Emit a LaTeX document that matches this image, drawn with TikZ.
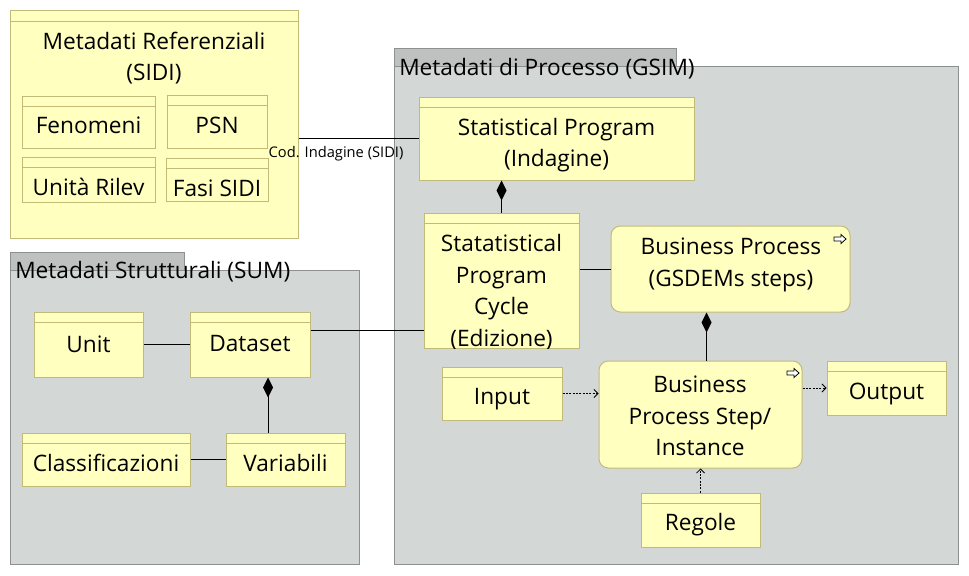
\documentclass[tikz,border=0pt]{standalone}
\usepackage{fontspec}
\setmainfont{Open Sans}
\usetikzlibrary{arrows.meta,fit,calc}
\definecolor{ylw}{HTML}{FFFFC0}
\definecolor{ylwb}{HTML}{C2BB78}
\definecolor{pkg}{HTML}{D3D7D6}
\definecolor{pkgtab}{HTML}{BFC1C1}
\definecolor{pkgb}{HTML}{8C908F}
\newcommand\klass[7]{%
  \node[classbox, fit={(#2,#3) (#4,#5)}] (#1) {};
  \draw[hdr] ($(#1.north west)+(0,11)$) -- ($(#1.north east)+(0,11)$);
  \node[txt] (#1-t) at ({(#2+#4)/2},#6) {#7};
}
\newcommand\bpicon[2]{%
  \draw[line width=0.6pt, fill=white] (#1,#2) ++(-6,-2) -- ++(7,0) -- ++(0,-2.5) -- ++(5,4.5) -- ++(-5,4.5) -- ++(0,-2.5) -- ++(-7,0) -- cycle;
}
\begin{document}
\begin{tikzpicture}[x=0.75pt,y=-0.75pt,
  classbox/.style={draw=ylwb, fill=ylw, line width=0.75pt, inner sep=0pt},
  hdr/.style={draw=ylwb, line width=0.75pt},
  pkgbody/.style={draw=pkgb, fill=pkg, line width=0.75pt, inner sep=0pt},
  pkgtabs/.style={draw=pkgb, fill=pkgtab, line width=0.75pt, inner sep=0pt},
  txt/.style={font=\fontsize{17}{23.6}\selectfont, align=center, inner sep=0pt, text=black},
  lbl/.style={font=\fontsize{11}{13}\selectfont, inner sep=0pt, text=black},
  conn/.style={draw=black, line width=0.75pt},
  comp/.style={conn, -{Diamond[length=15pt,width=7.5pt]}},
  dep/.style={draw=black, line width=0.6pt, dash pattern=on 1.5pt off 1pt, -{Straight Barb[length=3pt,width=6pt]}}
]
\fill[white] (0,0) rectangle (969,575);
\useasboundingbox (0,0) rectangle (969,575);

% packages
\node[pkgtabs, fit={(394,48) (676,66)}] (gsimtab) {};
\node[pkgbody, fit={(394,66) (958,564)}] (gsim) {};
\node[txt, anchor=west] (gsimt) at (399,69) {Metadati di Processo (GSIM)};

\node[pkgtabs, fit={(10,252) (184,270)}] (sumtab) {};
\node[pkgbody, fit={(10,270) (359,564)}] (sum) {};
\node[txt, anchor=west] (sumt) at (15,272) {Metadati Strutturali (SUM)};

\node[classbox, fit={(10,10) (298,238)}] (ref) {};
\draw[hdr] ($(ref.north west)+(0,12)$) -- ($(ref.north east)+(0,12)$);
\node[txt] (reft) at (154,58) {Metadati Referenziali\\(SIDI)};

% Referenziali contents
\klass{fen}{22}{96}{155}{148}{125}{Fenomeni}
\klass{psn}{167}{95}{267}{148}{125}{PSN}
\klass{unr}{22}{157}{155}{202}{187}{Unità Rilev}
\klass{fasi}{166}{158}{268}{201}{188}{Fasi SIDI}

% SUM contents
\klass{unit}{34}{312}{143}{377}{344}{Unit}
\klass{ds}{190}{312}{310}{377}{344}{Dataset}
\klass{cls}{22}{433}{190}{486}{463}{Classificazioni}
\klass{var}{226}{433}{345}{486}{463}{Variabili}

% GSIM contents
\klass{sp}{419}{97}{694}{180}{145}{Statistical Program\\(Indagine)}
\node[classbox, fit={(424,213) (579,348)}] (spc) {};
\draw[hdr] ($(spc.north west)+(0,11)$) -- ($(spc.north east)+(0,11)$);
\begin{scope}
  \clip (spc.south west) rectangle (spc.north east);
  \node[txt] (spct) at (501.5,292) {Statatistical\\Program\\Cycle\\(Edizione)};
\end{scope}
\node[classbox, rounded corners=7pt, fit={(611,226) (850,312)}] (bp) {};
\node[txt] (bpt) at (731,265) {Business Process\\(GSDEMs steps)};
\bpicon{840}{239}
\klass{inp}{442}{367}{562}{420}{399}{Input}
\node[classbox, rounded corners=7pt, fit={(599,361) (802,468)}] (bps) {};
\node[txt] (bpst) at (700,416) {Business\\Process Step/\\Instance};
\bpicon{793}{373}
\klass{out}{827}{361}{946}{415}{394}{Output}
\klass{reg}{641}{493}{760}{547}{525}{Regole}

% connectors
\draw[conn] (ref.east |- sp.west) -- (sp.west);
\node[lbl] (codl) at (336,154) {Cod. Indagine (SIDI)};
\draw[comp] (spc.north) -- (spc.north |- sp.south);
\draw[conn] (spc.east |- bp.west) -- (bp.west);
\draw[comp] ([xshift=4.5pt]bps.north) -- ([xshift=4.5pt]bps.north |- bp.south);
\coordinate (dsy) at (0,330);
\draw[conn] (ds.east |- dsy) -- (spc.west |- dsy);
\draw[conn] (unit.east) -- (ds.west);
\coordinate (dvx) at (268,0);
\draw[comp] (var.north -| dvx) -- (ds.south -| dvx);
\draw[conn] (cls.east) -- (var.west);
\draw[dep] (inp.east) -- (bps.west |- inp.east);
\draw[dep] (bps.east |- out.west) -- (out.west);
\draw[dep] (reg.north) -- (reg.north |- bps.south);
\end{tikzpicture}
\end{document}
